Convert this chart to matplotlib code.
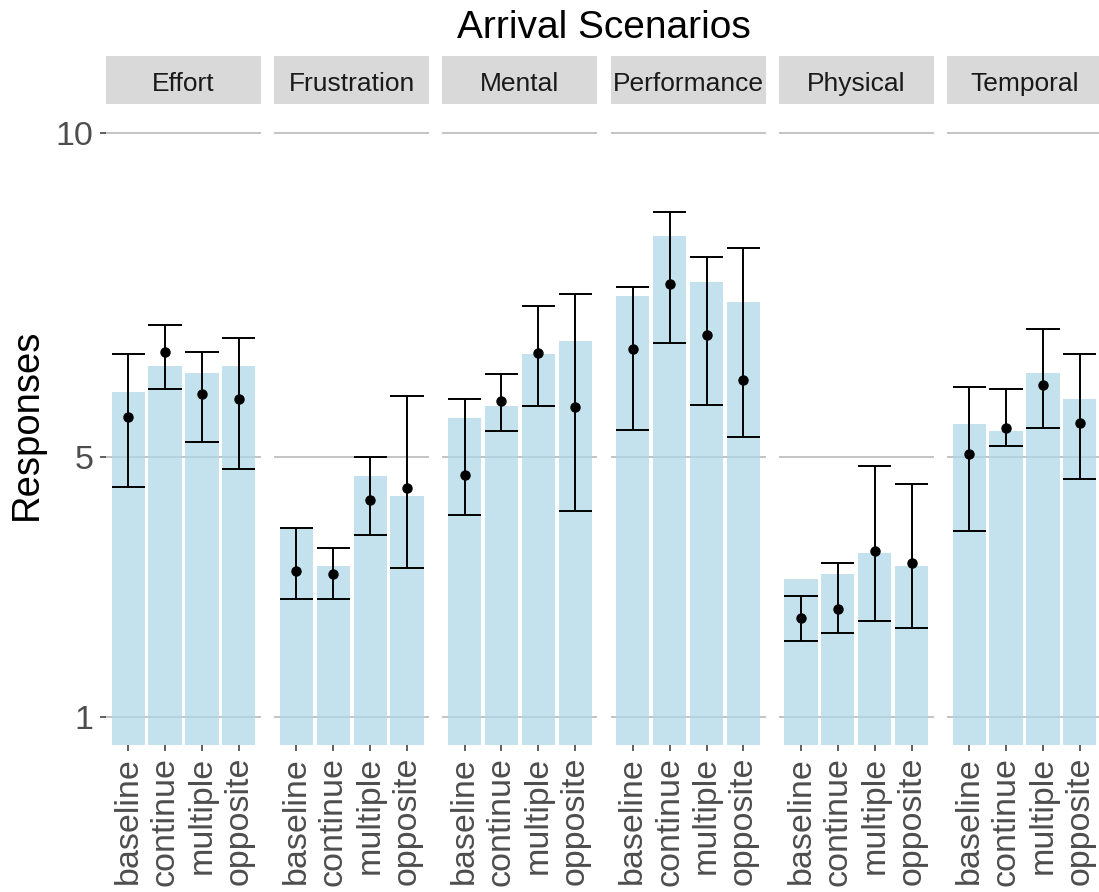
import numpy as np
import matplotlib
matplotlib.use("Agg")
import matplotlib.pyplot as plt

plt.rcParams['font.family'] = ['Liberation Sans', 'DejaVu Sans']

# workload dimensions (one facet each) and arrival scenarios (bars within a facet)
dimensions = ["Effort", "Frustration", "Mental", "Performance", "Physical", "Temporal"]
scenarios = ["baseline", "continue", "multiple", "opposite"]

# bar heights per dimension, in scenario order
bar_vals = {
    "Effort":      [6.01, 6.41, 6.30, 6.41],
    "Frustration": [3.92, 3.33, 4.71, 4.41],
    "Mental":      [5.60, 5.79, 6.60, 6.79],
    "Performance": [7.49, 8.41, 7.71, 7.40],
    "Physical":    [3.13, 3.21, 3.52, 3.32],
    "Temporal":    [5.51, 5.40, 6.30, 5.90],
}
# point estimates with lower / upper error bounds
point_vals = {
    "Effort":      [5.62, 6.62, 5.98, 5.90],
    "Frustration": [3.25, 3.20, 4.34, 4.53],
    "Mental":      [4.73, 5.87, 6.61, 5.78],
    "Performance": [6.67, 7.67, 6.89, 6.20],
    "Physical":    [2.53, 2.67, 3.56, 3.37],
    "Temporal":    [5.06, 5.45, 6.12, 5.53],
}
err_low = {
    "Effort":      [4.54, 6.06, 5.23, 4.82],
    "Frustration": [2.82, 2.82, 3.81, 3.29],
    "Mental":      [4.12, 5.40, 5.79, 4.17],
    "Performance": [5.42, 6.76, 5.81, 5.31],
    "Physical":    [2.17, 2.29, 2.48, 2.37],
    "Temporal":    [3.87, 5.18, 5.45, 4.67],
}
err_high = {
    "Effort":      [6.59, 7.04, 6.62, 6.84],
    "Frustration": [3.92, 3.61, 5.01, 5.95],
    "Mental":      [5.90, 6.28, 7.34, 7.51],
    "Performance": [7.62, 8.78, 8.09, 8.23],
    "Physical":    [2.87, 3.37, 4.87, 4.59],
    "Temporal":    [6.09, 6.06, 6.98, 6.59],
}
y_breaks = [1, 5, 10]

W, H = 1099, 892
fig = plt.figure(figsize=(W / 100, H / 100), dpi=100)

panel_left, panel_step, panel_w = 106, 168.2, 155
panel_top, panel_bottom = 104, 745
strip_top = 56

bar_color = "#ADD8E6"
grid_color = "#BFBFBF"
tick_color = "#4D4D4D"

x = np.arange(len(scenarios))
for i, dim in enumerate(dimensions):
    left = panel_left + i * panel_step
    ax = fig.add_axes([left / W, (H - panel_bottom) / H, panel_w / W, (panel_bottom - panel_top) / H])
    ax.set_axisbelow(True)
    ax.bar(x, bar_vals[dim], width=0.9, color=bar_color, alpha=0.72, zorder=2)

    pts = np.array(point_vals[dim])
    lo = np.array(err_low[dim])
    hi = np.array(err_high[dim])
    ax.vlines(x, lo, hi, color="black", lw=1.4, zorder=3)
    ax.hlines(lo, x - 0.45, x + 0.45, color="black", lw=1.4, zorder=3)
    ax.hlines(hi, x - 0.45, x + 0.45, color="black", lw=1.4, zorder=3)
    ax.plot(x, pts, "o", color="black", ms=6.5, zorder=4)

    ax.set_xlim(-0.6, len(scenarios) - 0.4)
    ax.set_ylim(0.569, 10.445)
    ax.set_yticks(y_breaks)
    ax.yaxis.grid(True, color=grid_color, lw=1.3)
    ax.xaxis.grid(False)
    for s in ax.spines.values():
        s.set_visible(False)

    ax.set_xticks(x)
    ax.set_xticklabels(scenarios, rotation=90, fontsize=24.5, color=tick_color)
    ax.tick_params(axis="x", length=4.5, width=1.1, color="#333333", pad=4)
    if i == 0:
        ax.set_yticklabels([str(v) for v in y_breaks], fontsize=24.5, color=tick_color)
        ax.tick_params(axis="y", length=4.5, width=1.1, color="#333333", pad=4.5)
    else:
        ax.tick_params(axis="y", left=False, labelleft=False)

    # facet strip
    sax = fig.add_axes([left / W, (H - panel_top) / H, panel_w / W, (panel_top - strip_top) / H])
    sax.set_facecolor("#D9D9D9")
    sax.set_xticks([])
    sax.set_yticks([])
    for s in sax.spines.values():
        s.set_visible(False)
    sax.text(0.5, 0.47, dim, ha="center", va="center_baseline", fontsize=19, color="#1A1A1A",
             transform=sax.transAxes)

fig.text(604 / W, 1 - 38 / H, "Arrival Scenarios", ha="center", va="baseline",
         fontsize=28, color="black")
fig.text(27 / W, 1 - 424 / H, "Responses", ha="center", va="center", rotation=90,
         fontsize=27.5, color="black")

fig.savefig("out.png", dpi=100)
